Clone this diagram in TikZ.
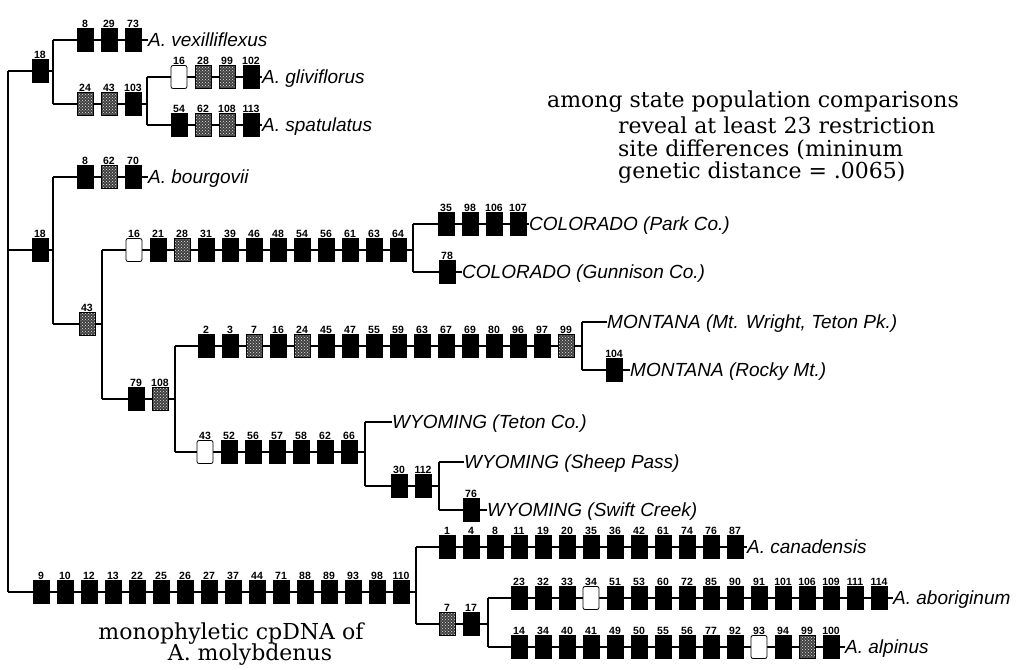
\documentclass[tikz,border=0pt]{standalone}
\usepackage{fontspec}
\setmainfont{Liberation Sans}
\newfontfamily\notafont{DejaVu Serif}
\usetikzlibrary{backgrounds,patterns}

\tikzset{
  sitio/.style={draw=black, line width=0.8pt, minimum width=16pt, minimum height=23pt, inner sep=0pt, label distance=5pt},
  preto/.style={sitio, fill=black},
  cinza/.style={sitio, preaction={fill=black!75}, pattern=crosshatch dots, pattern color=black!10},
  vazio/.style={sitio, fill=white, rounded corners=2pt},
  num/.style={inner sep=0pt, font=\bfseries\fontsize{10.5}{10.5}\selectfont},
  taxon/.style={anchor=west, inner sep=0pt, text height=13.5pt, text depth=0pt, font=\itshape\fontsize{19}{19}\selectfont},
  nota/.style={inner sep=0pt, font=\notafont\fontsize{22}{24}\selectfont},
  ramo/.style={line width=1.6pt}
}

\begin{document}
\begin{tikzpicture}[x=1pt, y=-1pt]
\useasboundingbox (0,0) rectangle (1019,669);

% Raiz
\coordinate (r0) at (8,71);
\coordinate (r1) at (8,592);

% Clado 1
\node[preto, label={[num]above:18}] (s18a) at (40,71) {};
\coordinate (ja1) at (53,40);
\coordinate (ja2) at (53,104);
\foreach \n [count=\i] in {8,29,73}
  \node[preto, label={[num]above:\n}] (vex\i) at ({61+24*\i},40) {};
\node[taxon] (vex) at (148,40) {A. vexilliflexus};
\foreach \n/\s [count=\i] in {24/cinza,43/cinza,103/preto}
  \node[\s, label={[num]above:\n}] (ab\i) at ({61+24*\i},104) {};
\coordinate (jb1) at (147,77);
\coordinate (jb2) at (147,125);
\foreach \n/\s [count=\i] in {16/vazio,28/cinza,99/cinza,102/preto}
  \node[\s, label={[num]above:\n}] (gli\i) at ({155+24*\i},77) {};
\node[taxon] (gli) at (262,77) {A. gliviflorus};
\foreach \n/\s [count=\i] in {54/preto,62/cinza,108/cinza,113/preto}
  \node[\s, label={[num]above:\n}] (spa\i) at ({155+24*\i},125) {};
\node[taxon] (spa) at (262,125) {A. spatulatus};

% Clado 2
\node[preto, label={[num]above:18}] (s18b) at (40,250) {};
\coordinate (jc1) at (53,177);
\coordinate (jc2) at (53,324);
\foreach \n/\s [count=\i] in {8/preto,62/cinza,70/preto}
  \node[\s, label={[num]above:\n}] (bou\i) at ({61+24*\i},177) {};
\node[taxon] (bou) at (148,177) {A. bourgovii};
\node[cinza, label={[num]above:43}] (s43) at (87,324) {};
\coordinate (jd1) at (102,250);
\coordinate (jd2) at (102,399);
\foreach \n/\s [count=\i] in {16/vazio,21/preto,28/cinza,31/preto,39/preto,46/preto,48/preto,54/preto,56/preto,61/preto,63/preto,64/preto}
  \node[\s, label={[num]above:\n}] (col\i) at ({110+24*\i},250) {};
\coordinate (je1) at (413,224);
\coordinate (je2) at (413,272);
\foreach \n [count=\i] in {35,98,106,107}
  \node[preto, label={[num]above:\n}] (par\i) at ({422+24*\i},224) {};
\node[taxon] (par) at (529,224) {COLORADO (Park Co.)};
\node[preto, label={[num]above:78}] (gun1) at (447,272) {};
\node[taxon] (gun) at (462,272) {COLORADO (Gunnison Co.)};
\node[preto, label={[num]above:79}] (s79) at (136,399) {};
\node[cinza, label={[num]above:108}] (s108) at (160,399) {};
\coordinate (jf1) at (175,346);
\coordinate (jf2) at (175,452);
\foreach \n/\s [count=\i] in {2/preto,3/preto,7/cinza,16/preto,24/cinza,45/preto,47/preto,55/preto,59/preto,63/preto,67/preto,69/preto,80/preto,96/preto,97/preto,99/cinza}
  \node[\s, label={[num]above:\n}] (mon\i) at ({182+24*\i},346) {};
\coordinate (jg1) at (582,322);
\coordinate (jg2) at (582,370);
\node[taxon] (mtw) at (607,322) {MONTANA (Mt. Wright, Teton Pk.)};
\node[preto, label={[num]above:104}] (roc1) at (614,370) {};
\node[taxon] (roc) at (630,370) {MONTANA (Rocky Mt.)};
\foreach \n/\s [count=\i] in {43/vazio,52/preto,56/preto,57/preto,58/preto,62/preto,66/preto}
  \node[\s, label={[num]above:\n}] (wyo\i) at ({181+24*\i},452) {};
\coordinate (jh1) at (365,422);
\coordinate (jh2) at (365,486);
\node[taxon] (tet) at (392,422) {WYOMING (Teton Co.)};
\node[preto, label={[num]above:30}] (s30) at (399,486) {};
\node[preto, label={[num]above:112}] (s112) at (423,486) {};
\coordinate (ji1) at (439,462);
\coordinate (ji2) at (439,510);
\node[taxon] (she) at (464,462) {WYOMING (Sheep Pass)};
\node[preto, label={[num]above:76}] (swi1) at (471,510) {};
\node[taxon] (swi) at (487,510) {WYOMING (Swift Creek)};

% Clado 3
\foreach \n [count=\i] in {9,10,12,13,22,25,26,27,37,44,71,88,89,93,98,110}
  \node[preto, label={[num]above:\n}] (bas\i) at ({17+24*\i},592) {};
\coordinate (jj1) at (416,547);
\coordinate (jj2) at (416,624);
\foreach \n [count=\i] in {1,4,8,11,19,20,35,36,42,61,74,76,87}
  \node[preto, label={[num]above:\n}] (can\i) at ({423+24*\i},547) {};
\node[taxon] (can) at (747,547) {A. canadensis};
\node[cinza, label={[num]above:7}] (s7) at (447,624) {};
\node[preto, label={[num]above:17}] (s17) at (471,624) {};
\coordinate (jk1) at (488,598);
\coordinate (jk2) at (488,647);
\foreach \n/\s [count=\i] in {23/preto,32/preto,33/preto,34/vazio,51/preto,53/preto,60/preto,72/preto,85/preto,90/preto,91/preto,101/preto,106/preto,109/preto,111/preto,114/preto}
  \node[\s, label={[num]above:\n}] (abo\i) at ({495+24*\i},598) {};
\node[taxon] (abo) at (893,598) {A. aboriginum};
\foreach \n/\s [count=\i] in {14/preto,34/preto,40/preto,41/preto,49/preto,50/preto,55/preto,56/preto,77/preto,92/preto,93/vazio,94/preto,99/cinza,100/preto}
  \node[\s, label={[num]above:\n}] (alp\i) at ({495+24*\i},647) {};
\node[taxon] (alp) at (845,647) {A. alpinus};

% Notas
\node[nota, anchor=west] (nota1) at (547,102) {among state population comparisons};
\node[nota, anchor=west] (nota2) at (618,125) {reveal at least 23 restriction};
\node[nota, anchor=west] (nota3) at (618,150) {site differences (mininum};
\node[nota, anchor=west] (nota4) at (618,173) {genetic distance = .0065)};
\node[nota] (mono1) at (231,634) {monophyletic cpDNA of};
\node[nota] (mono2) at (250,655) {A. molybdenus};

% Ramos
\begin{scope}[on background layer]
\draw[ramo] (r0) -- (r1);
\draw[ramo] (r0) -- (s18a) -- (s18a -| ja1);
\draw[ramo] (ja1) -- (ja2);
\draw[ramo] (ja1) -- (vex);
\draw[ramo] (ja2) -- (ja2 -| jb1);
\draw[ramo] (jb1) -- (jb2);
\draw[ramo] (jb1) -- (gli);
\draw[ramo] (jb2) -- (spa);
\draw[ramo] (r0 |- s18b) -- (s18b) -- (s18b -| jc1);
\draw[ramo] (jc1) -- (jc2);
\draw[ramo] (jc1) -- (bou);
\draw[ramo] (jc2) -- (s43) -- (s43 -| jd1);
\draw[ramo] (jd1) -- (jd2);
\draw[ramo] (jd1) -- (jd1 -| je1);
\draw[ramo] (je1) -- (je2);
\draw[ramo] (je1) -- (par);
\draw[ramo] (je2) -- (gun);
\draw[ramo] (jd2) -- (jd2 -| jf1);
\draw[ramo] (jf1) -- (jf2);
\draw[ramo] (jf1) -- (jf1 -| jg1);
\draw[ramo] (jg1) -- (jg2);
\draw[ramo] (jg1) -- (mtw);
\draw[ramo] (jg2) -- (roc);
\draw[ramo] (jf2) -- (jf2 -| jh1);
\draw[ramo] (jh1) -- (jh2);
\draw[ramo] (jh1) -- (tet);
\draw[ramo] (jh2) -- (jh2 -| ji1);
\draw[ramo] (ji1) -- (ji2);
\draw[ramo] (ji1) -- (she);
\draw[ramo] (ji2) -- (swi);
\draw[ramo] (r1) -- (r1 -| jj1);
\draw[ramo] (jj1) -- (jj2);
\draw[ramo] (jj1) -- (can);
\draw[ramo] (jj2) -- (jj2 -| jk1);
\draw[ramo] (jk1) -- (jk2);
\draw[ramo] (jk1) -- (abo);
\draw[ramo] (jk2) -- (alp);
\end{scope}

\end{tikzpicture}
\end{document}
